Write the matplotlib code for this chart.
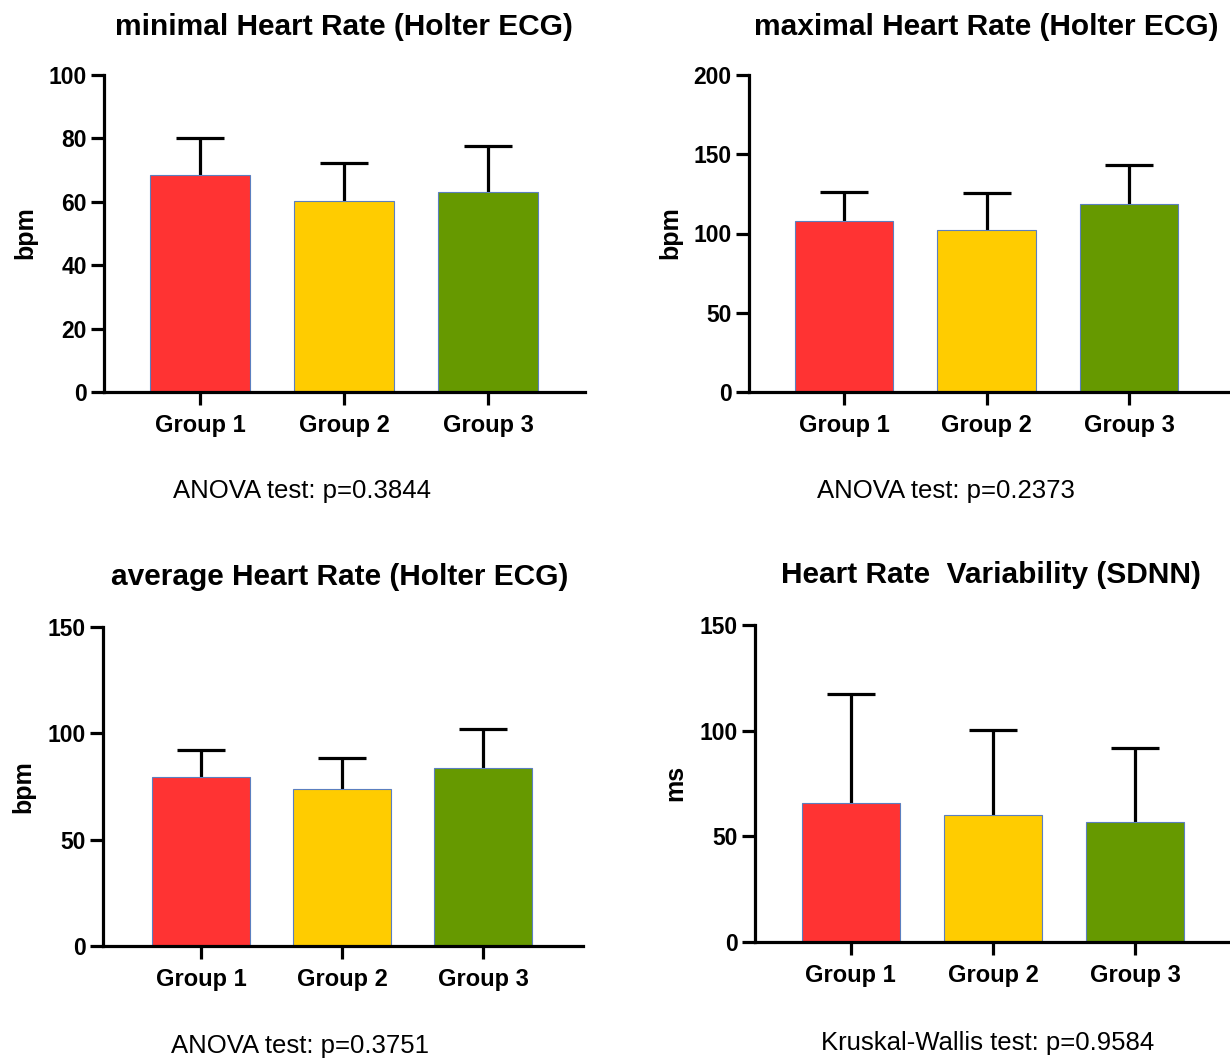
import matplotlib
matplotlib.use('Agg')
import matplotlib.pyplot as plt
import numpy as np

plt.rcParams['font.family'] = ['Liberation Sans', 'DejaVu Sans']

# Data
groups = ['Group 1', 'Group 2', 'Group 3']
bar_colors = ['#FF3333', '#FFCC00', '#669900']

min_hr_mean = [68.6, 60.4, 63.2]
min_hr_sd = [11.4, 11.7, 14.5]
max_hr_mean = [108.0, 102.1, 118.6]
max_hr_sd = [18.1, 23.2, 24.8]
avg_hr_mean = [79.6, 74.0, 83.6]
avg_hr_sd = [12.6, 14.3, 18.3]
sdnn_mean = [66.0, 60.0, 56.9]
sdnn_sd = [51.4, 40.5, 34.8]

titles = ['minimal Heart Rate (Holter ECG)', 'maximal Heart Rate (Holter ECG)',
          'average Heart Rate (Holter ECG)', 'Heart Rate  Variability (SDNN)']
ylabels = ['bpm', 'bpm', 'bpm', 'ms']
tests = ['ANOVA test: p=0.3844', 'ANOVA test: p=0.2373',
         'ANOVA test: p=0.3751', 'Kruskal-Wallis test: p=0.9584']
y_ticks = [[0, 20, 40, 60, 80, 100], [0, 50, 100, 150, 200],
           [0, 50, 100, 150], [0, 50, 100, 150]]

W, H = 1230, 1061
fig = plt.figure(figsize=(W / 100, H / 100), dpi=100)

# panel boxes in pixels: left, right, top, bottom
boxes = [(104, 585, 75, 392), (749, 1230, 75, 392),
         (103, 583, 627, 946), (755, 1230, 625, 942)]
xlims = [(-0.667, 2.674), (-0.667, 2.709), (-0.695, 2.709), (-0.674, 2.667)]
title_pos = [(344, 27), (986, 27), (340, 577), (991, 575)]
ylabel_pos = [(25, 233), (670, 233), (23, 787), (675, 783)]
test_pos = [(302, 491), (946, 491), (300, 1046), (988, 1043)]

means = [min_hr_mean, max_hr_mean, avg_hr_mean, sdnn_mean]
sds = [min_hr_sd, max_hr_sd, avg_hr_sd, sdnn_sd]

for i in range(4):
    l, r, t, b = boxes[i]
    ax = fig.add_axes([l / W, 1 - b / H, (r - l) / W, (b - t) / H])
    x = np.arange(len(groups))
    ax.bar(x, means[i], width=0.69, color=bar_colors, edgecolor='#5B7FBF',
           linewidth=0.8, zorder=2)
    eb = ax.errorbar(x, means[i], yerr=[np.zeros(3), sds[i]], fmt='none',
                     ecolor='black', elinewidth=2.3, capsize=17, capthick=2.3, zorder=1)
    # hide the cap sitting on top of the bar (zero lower error)
    for cl in eb[1]:
        if np.allclose(cl.get_ydata(), means[i]):
            cl.set_visible(False)
    ax.set_xlim(*xlims[i])
    ax.set_ylim(y_ticks[i][0], y_ticks[i][-1])
    ax.set_yticks(y_ticks[i])
    ax.set_xticks(x)
    ax.set_xticklabels(groups, fontsize=17, fontweight='bold')
    for lbl in ax.get_yticklabels():
        lbl.set_fontsize(16.5)
        lbl.set_fontweight('bold')
    for s in ['top', 'right']:
        ax.spines[s].set_visible(False)
    for s in ['left', 'bottom']:
        ax.spines[s].set_linewidth(2.3)
    ax.tick_params(axis='y', length=9.5, width=2.3, pad=3)
    ax.tick_params(axis='x', length=9, width=2.3, pad=7)
    for sp in ax.spines.values():
        sp.set_zorder(3)

    fig.text(title_pos[i][0] / W, 1 - title_pos[i][1] / H, titles[i],
             ha='center', va='center', fontsize=21.5, fontweight='bold')
    fig.text(ylabel_pos[i][0] / W, 1 - ylabel_pos[i][1] / H, ylabels[i],
             ha='center', va='center', rotation=90, fontsize=18, fontweight='bold')
    fig.text(test_pos[i][0] / W, 1 - test_pos[i][1] / H, tests[i],
             ha='center', va='center', fontsize=18.5)

fig.savefig('out.png', dpi=100, facecolor='white')
